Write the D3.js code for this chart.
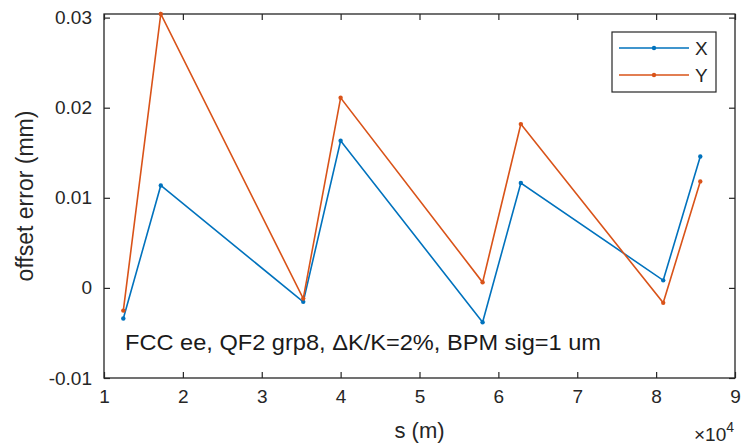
<!DOCTYPE html>
<html><head><meta charset="utf-8">
<script src="https://cdn.jsdelivr.net/npm/d3@7"></script>
<style>
html,body{margin:0;padding:0;background:#fff;}
svg{display:block;font-family:"Liberation Sans",Arial,Helvetica,sans-serif;}
</style></head>
<body>
<svg id="c" width="743" height="446"></svg>
<script>
const sPos = [12450, 17200, 35260, 40000, 58000, 62850, 80900, 85600];
const xErr = [-0.0034, 0.01137, -0.00155, 0.01633, -0.00381, 0.01164, 0.00084, 0.01459];
const yErr = [-0.00252, 0.0304, -0.00119, 0.0211, 0.00062, 0.01818, -0.00166, 0.01182];
const xTicks = [10000, 20000, 30000, 40000, 50000, 60000, 70000, 80000, 90000];
const xTickLabels = ["1","2","3","4","5","6","7","8","9"];
const yTicks = [-0.01, 0, 0.01, 0.02, 0.03];
const yTickLabels = ["-0.01","0","0.01","0.02","0.03"];
const seriesNames = ["X", "Y"];
const colors = ["#0072BD", "#D95319"];

const svg = d3.select("#c");
const L = 104, R = 735, T = 14, B = 378;
const x = d3.scaleLinear().domain([10000, 90000]).range([L, R]);
const y = d3.scaleLinear().domain([-0.01, 0.0304]).range([B, T]);
const axCol = "#262626", txtCol = "#262626";

svg.append("rect").attr("x", L).attr("y", T).attr("width", R - L).attr("height", B - T).attr("fill", "#fff");

function styleAxis(g) {
  g.select(".domain").remove();
  g.selectAll(".tick line").attr("stroke", axCol).attr("stroke-width", 1.2);
  g.selectAll(".tick text").attr("fill", txtCol).attr("font-size", 19).attr("font-family", "Liberation Sans, Arial, sans-serif");
}
const tl = 6;
const gxB = svg.append("g").attr("transform", `translate(0,${B})`)
  .call(d3.axisBottom(x).tickValues(xTicks).tickFormat((d, i) => xTickLabels[i]).tickSizeInner(-tl).tickSizeOuter(0).tickPadding(12));
styleAxis(gxB);
const gxT = svg.append("g").attr("transform", `translate(0,${T})`)
  .call(d3.axisTop(x).tickValues(xTicks).tickFormat("").tickSizeInner(-tl).tickSizeOuter(0));
styleAxis(gxT);
const gyL = svg.append("g").attr("transform", `translate(${L},0)`)
  .call(d3.axisLeft(y).tickValues(yTicks).tickFormat((d, i) => yTickLabels[i]).tickSizeInner(-tl).tickSizeOuter(0).tickPadding(12));
styleAxis(gyL);
const gyR = svg.append("g").attr("transform", `translate(${R},0)`)
  .call(d3.axisRight(y).tickValues(yTicks).tickFormat("").tickSizeInner(-tl).tickSizeOuter(0));
styleAxis(gyR);

svg.append("rect").attr("x", L).attr("y", T).attr("width", R - L).attr("height", B - T)
  .attr("fill", "none").attr("stroke", axCol).attr("stroke-width", 1.3);

const data = [xErr, yErr];
const line = d3.line().x((d, i) => x(sPos[i])).y(d => y(d));
data.forEach((vals, k) => {
  svg.append("path").datum(vals).attr("d", line).attr("fill", "none")
    .attr("stroke", colors[k]).attr("stroke-width", 1.6).attr("stroke-linejoin", "miter");
  svg.selectAll(null).data(vals).enter().append("circle")
    .attr("cx", (d, i) => x(sPos[i])).attr("cy", d => y(d)).attr("r", 2.2).attr("fill", colors[k]);
});

svg.append("text").attr("x", 125).attr("y", 350).attr("font-size", 22).attr("fill", "#1a1a1a")
  .attr("textLength", 476).attr("lengthAdjust", "spacingAndGlyphs")
  .text("FCC ee, QF2 grp8, \u0394K/K=2%, BPM sig=1 um");

const lg = svg.append("g");
lg.append("rect").attr("x", 612).attr("y", 32).attr("width", 104).attr("height", 60)
  .attr("fill", "#fff").attr("stroke", axCol).attr("stroke-width", 1.2);
seriesNames.forEach((n, k) => {
  const yy = 48 + k * 27;
  lg.append("line").attr("x1", 619).attr("x2", 689).attr("y1", yy).attr("y2", yy)
    .attr("stroke", colors[k]).attr("stroke-width", 1.6);
  lg.append("circle").attr("cx", 654).attr("cy", yy).attr("r", 2.2).attr("fill", colors[k]);
  lg.append("text").attr("x", 695).attr("y", yy + 7).attr("font-size", 19).attr("fill", txtCol).text(n);
});

svg.append("text").attr("x", (L + R) / 2).attr("y", 438).attr("text-anchor", "middle")
  .attr("font-size", 22).attr("fill", txtCol).text("s (m)");
svg.append("text").attr("transform", `translate(33,${(T + B) / 2}) rotate(-90)`).attr("text-anchor", "middle")
  .attr("font-size", 23).attr("fill", txtCol).text("offset error (mm)");

const ex = svg.append("text").attr("x", 734).attr("y", 441).attr("text-anchor", "end").attr("fill", txtCol).attr("font-size", 19);
ex.append("tspan").text("\u00d710");
ex.append("tspan").attr("dy", -9).attr("font-size", 14).text("4");
</script>
</body></html>
